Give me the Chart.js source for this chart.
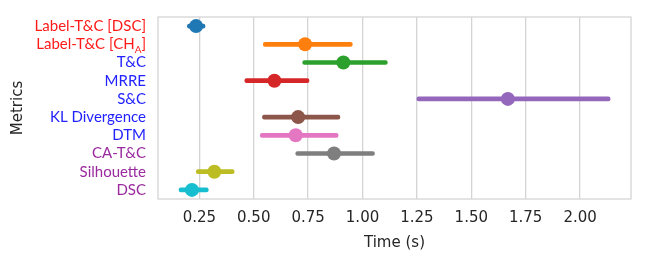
<!DOCTYPE html>
<html>
<head>
<meta charset="utf-8">
<script src="https://cdn.jsdelivr.net/npm/chart.js@4/dist/chart.umd.min.js"></script>
<style>
  html, body { margin: 0; padding: 0; background: #fff; }
  #wrap { width: 648px; height: 268px; }
</style>
</head>
<body>
<div id="wrap"><canvas id="chart" width="648" height="268"></canvas></div>
<script>
// metric names (the "_A" part is drawn as a subscript)
const metrics = ['Label-T&C [DSC]', 'Label-T&C [CH_A]', 'T&C', 'MRRE', 'S&C',
                 'KL Divergence', 'DTM', 'CA-T&C', 'Silhouette', 'DSC'];
// mean time and interval ends
const meanTime = [0.235, 0.736, 0.912, 0.595, 1.668, 0.704, 0.693, 0.869, 0.319, 0.216];
const lowTime  = [0.195, 0.544, 0.725, 0.459, 1.250, 0.540, 0.530, 0.693, 0.236, 0.157];
const highTime = [0.276, 0.953, 1.114, 0.754, 2.138, 0.896, 0.888, 1.055, 0.410, 0.291];
const xTicks = [0.25, 0.5, 0.75, 1.0, 1.25, 1.5, 1.75, 2.0];

const pointColors = ['#1f77b4', '#ff7f0e', '#2ca02c', '#d62728', '#9467bd',
                     '#8c564b', '#e377c2', '#7f7f7f', '#bcbd22', '#17becf'];
const labelColors = ['#ff1a1a', '#ff1a1a', '#2222ff', '#2222ff', '#2222ff',
                     '#2222ff', '#2222ff', '#9a2a9e', '#9a2a9e', '#9a2a9e'];

const PLOT_LEFT = 158, PLOT_RIGHT = 631, PLOT_TOP = 17, PLOT_BOTTOM = 199;
const AXIS_FONT = "'DejaVu Sans', sans-serif";

// y labels with subscript + the frame round the plot
const labelPlugin = {
  id: 'labelPlugin',
  afterDraw(chart) {
    const ctx = chart.ctx;
    const area = chart.chartArea;
    const yScale = chart.scales.y;
    ctx.save();
    ctx.strokeStyle = '#d4d4d4';
    ctx.lineWidth = 1.3;
    ctx.strokeRect(area.left, area.top, area.right - area.left, area.bottom - area.top);

    ctx.textBaseline = 'middle';
    ctx.textAlign = 'left';
    const xRight = area.left - 12;
    const big = "15px 'Lato', sans-serif";
    const small = "10px 'Lato', sans-serif";
    metrics.forEach((m, i) => {
      const y = yScale.getPixelForValue(i);
      ctx.fillStyle = labelColors[i];
      if (m.includes('_')) {
        const head = m.split('_')[0];
        const rest = m.split('_')[1];
        const sub = rest.slice(0, 1);
        const tail = rest.slice(1);
        ctx.font = big;
        const wh = ctx.measureText(head).width;
        const wt = ctx.measureText(tail).width;
        ctx.font = small;
        const ws = ctx.measureText(sub).width;
        let x = xRight - wh - ws - wt;
        ctx.font = big;
        ctx.fillText(head, x, y);
        x += wh;
        ctx.font = small;
        ctx.fillText(sub, x, y + 5);
        x += ws;
        ctx.font = big;
        ctx.fillText(tail, x, y);
      } else {
        ctx.font = big;
        ctx.textAlign = 'right';
        ctx.fillText(m, xRight, y);
        ctx.textAlign = 'left';
      }
    });
    ctx.restore();
  }
};

const ctx = document.getElementById('chart').getContext('2d');
new Chart(ctx, {
  type: 'bar',
  data: {
    labels: metrics,
    datasets: [
      {
        type: 'line',
        data: meanTime,
        showLine: false,
        pointRadius: 7,
        pointHoverRadius: 7,
        pointBorderWidth: 0,
        pointBackgroundColor: pointColors,
        pointBorderColor: pointColors,
        order: 1
      },
      {
        type: 'bar',
        data: lowTime.map((lo, i) => [lo, highTime[i]]),
        backgroundColor: pointColors,
        barThickness: 4,
        borderRadius: 2,
        borderSkipped: false,
        order: 2
      }
    ]
  },
  options: {
    indexAxis: 'y',
    responsive: false,
    animation: false,
    layout: { padding: { top: PLOT_TOP, right: 648 - PLOT_RIGHT, left: 0, bottom: 0 } },
    plugins: { legend: { display: false }, tooltip: { enabled: false } },
    scales: {
      x: {
        type: 'linear',
        min: 0.06,
        max: 2.234,
        afterFit: s => { s.height = 268 - PLOT_BOTTOM; },
        afterBuildTicks: s => { s.ticks = xTicks.map(v => ({ value: v })); },
        grid: { color: '#d4d4d4', lineWidth: 1.3, drawTicks: false },
        border: { display: false },
        ticks: {
          padding: 10,
          color: '#262626',
          font: { family: AXIS_FONT, size: 15 },
          callback: v => v.toFixed(2)
        },
        title: {
          display: true,
          text: 'Time (s)',
          color: '#262626',
          font: { family: AXIS_FONT, size: 15 },
          padding: { top: 4, bottom: 16 }
        }
      },
      y: {
        type: 'category',
        offset: true,
        afterFit: s => { s.width = PLOT_LEFT; },
        grid: { display: false },
        border: { display: false },
        ticks: { display: false },
        title: {
          display: true,
          text: 'Metrics',
          color: '#262626',
          font: { family: AXIS_FONT, size: 15 },
          padding: { top: 9, bottom: 0 }
        }
      }
    }
  },
  plugins: [labelPlugin]
});
</script>
</body>
</html>
